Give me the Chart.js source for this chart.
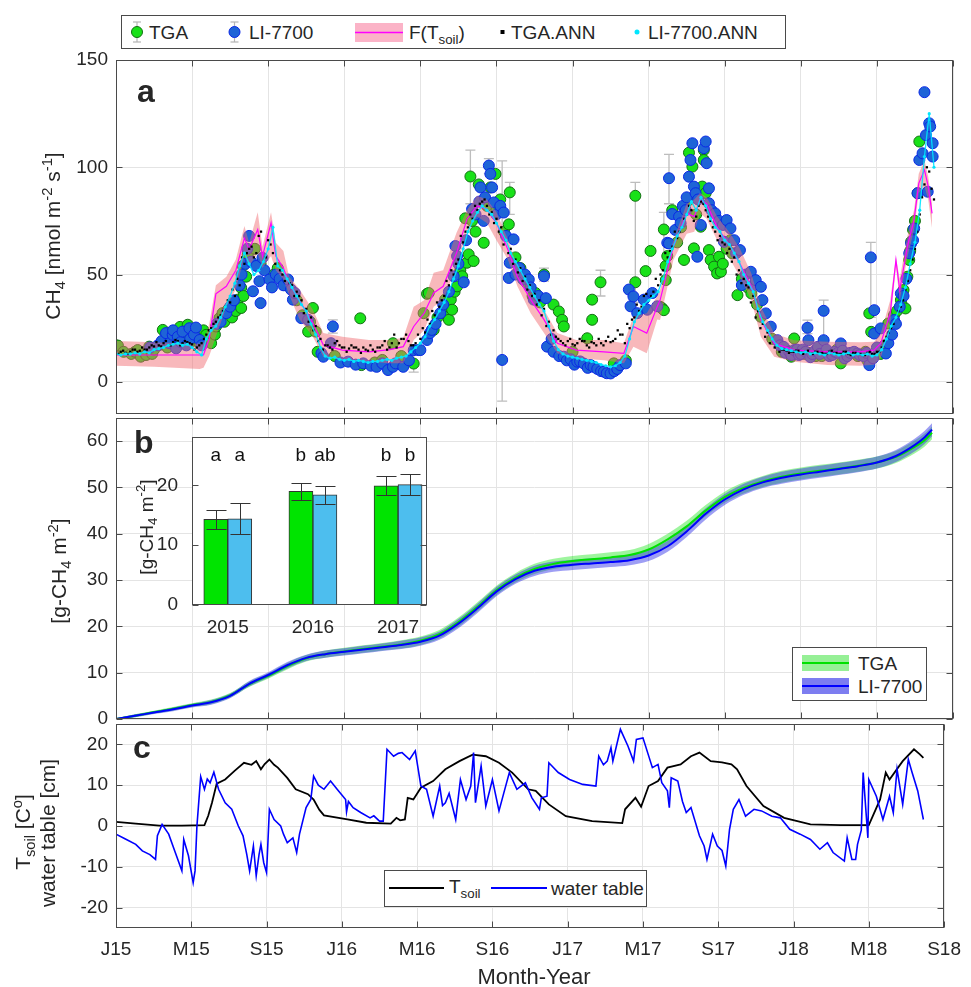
<!DOCTYPE html>
<html lang="en">
<head>
<meta charset="UTF-8">
<title>CH4 flux, cumulative CH4, soil temperature and water table</title>
<script src="https://cdn.jsdelivr.net/npm/chart.js@4"></script>
<style>
  body { margin: 0; background: #fff; font-family: "Liberation Sans", Arial, Helvetica, sans-serif; color: #262626; }
  #fig { position: relative; width: 971px; height: 987px; overflow: hidden; background: #fff; }
  #fig canvas { position: absolute; left: 0; top: 0; }
  .ytitle { position: absolute; transform: translate(-50%, -50%) rotate(-90deg); white-space: nowrap; font-size: 21px; line-height: 1; }
  .ytitle sub, .ytitle sup, .legend sub { font-size: 70%; line-height: 0; }
  .panel { position: absolute; font-weight: bold; font-size: 32px; line-height: 1; }
  .legend { position: absolute; border: 1px solid #4a4a4a; background: #fff; font-size: 19px; }
  .legend span { position: absolute; white-space: nowrap; line-height: 1; }
  .legend svg { position: absolute; left: 0; top: 0; }
</style>
</head>
<body>
<div id="fig">
  <canvas id="cA" width="971" height="987"></canvas>
  <canvas id="cB" width="971" height="987"></canvas>
  <canvas id="cC" width="971" height="987"></canvas>
  <canvas id="cD" width="340" height="230" style="left:100px;top:420px"></canvas>

  <div class="panel" style="left:137px;top:75px">a</div>
  <div class="panel" style="left:134px;top:426px">b</div>
  <div class="panel" style="left:133px;top:731px">c</div>

  <div class="ytitle" style="left:52px;top:236px">CH<sub>4</sub> [nmol m<sup>-2</sup> s<sup>-1</sup>]</div>
  <div class="ytitle" style="left:58px;top:571px">[g-CH<sub>4</sub> m<sup>-2</sup>]</div>
  <div class="ytitle" style="left:22px;top:832px">T<sub>soil</sub> [C<sup>o</sup>]</div>
  <div class="ytitle" style="left:47px;top:833px">water table [cm]</div>
  <div class="ytitle" style="left:146px;top:527px;font-size:19px">[g-CH<sub>4</sub> m<sup>-2</sup>]</div>
  <div style="position:absolute;left:534px;top:977px;transform:translate(-50%,-50%);font-size:22px;white-space:nowrap">Month-Year</div>

  <div class="legend" style="left:121px;top:15px;width:663px;height:32px">
    <svg width="663" height="32">
      <g stroke="#b5b5b5" stroke-width="1.2">
        <line x1="15" y1="6" x2="15" y2="26"/><line x1="11" y1="6" x2="19" y2="6"/><line x1="11" y1="26" x2="19" y2="26"/>
        <line x1="112.5" y1="6" x2="112.5" y2="26"/><line x1="108.5" y1="6" x2="116.5" y2="6"/><line x1="108.5" y1="26" x2="116.5" y2="26"/>
      </g>
      <circle cx="15" cy="16" r="5.5" fill="rgb(25,225,25)" stroke="rgb(20,110,20)"/>
      <circle cx="112.5" cy="16" r="5.5" fill="rgb(30,100,215)" stroke="rgb(10,40,230)"/>
      <rect x="233" y="7" width="48" height="19" fill="#fbb3c7"/>
      <line x1="233" y1="16.5" x2="281" y2="16.5" stroke="#ff00ff" stroke-width="1.5"/>
      <rect x="378.5" y="14" width="4" height="4" fill="#000"/>
      <circle cx="515" cy="16" r="2.5" fill="rgb(0,230,255)"/>
    </svg>
    <span style="left:27px;top:7px">TGA</span>
    <span style="left:127px;top:7px">LI-7700</span>
    <span style="left:287px;top:7px">F(T<sub>soil</sub>)</span>
    <span style="left:389px;top:7px">TGA.ANN</span>
    <span style="left:526px;top:7px">LI-7700.ANN</span>
  </div>

  <div class="legend" style="left:792px;top:647px;width:133px;height:52px">
    <svg width="133" height="52">
      <rect x="9" y="7" width="47" height="16" fill="rgb(150,240,150)"/>
      <line x1="9" y1="15" x2="56" y2="15" stroke="rgb(0,225,0)" stroke-width="2"/>
      <rect x="9" y="30" width="47" height="16" fill="rgb(125,125,240)"/>
      <line x1="9" y1="38" x2="56" y2="38" stroke="#0000ff" stroke-width="2"/>
    </svg>
    <span style="left:65px;top:6px">TGA</span>
    <span style="left:65px;top:29px">LI-7700</span>
  </div>

  <div class="legend" style="left:384px;top:870px;width:261px;height:35px">
    <svg width="261" height="35">
      <line x1="4" y1="17" x2="59" y2="17" stroke="#000" stroke-width="2"/>
      <line x1="106" y1="17" x2="162" y2="17" stroke="#0000ff" stroke-width="2"/>
    </svg>
    <span style="left:64px;top:6px">T<sub>soil</sub></span>
    <span style="left:166px;top:8px">water table</span>
  </div>
</div>

<script>
// ---------- shared x axis (months since Jan 2015) ----------
const xTickMonths = [0, 4, 8, 12, 16, 20, 24, 28, 32, 36, 40, 44];
const xTickLabels = ['J15', 'M15', 'S15', 'J16', 'M16', 'S16', 'J17', 'M17', 'S17', 'J18', 'M18', 'S18'];
const fluxTicks = [0, 50, 100, 150];
const cumTicks = [0, 10, 20, 30, 40, 50, 60];
const envTicks = [-20, -10, 0, 10, 20];

// ---------- panel a: CH4 flux [nmol m-2 s-1] ----------
// [month, flux] or [month, flux, errLow, errHigh]
const tgaFlux = [
  [0.0,17],[0.1,16.9],[0.4,14],[0.8,13],[1.0,14],[1.14,14.8],[1.3,11.7],[1.58,12.5],[1.75,16.4],[1.9,13],[2.0,15],[2.28,17.2],
  [2.46,24.2],[2.6,20],[2.7,16],[2.9,21],[3.1,18],[3.3,20],[3.37,25.6],[3.5,22.7],[3.77,26.6],[4.0,19],[4.2,21],[4.39,18],[4.6,24],[4.74,21.9],
  [5.0,18],[5.2,22],[5.26,25.8],[5.44,29.7],[5.6,32],[5.7,28],[5.88,33.6],[6.05,35],[6.1,30],[6.23,36.7],[6.3,33],[6.4,38.3],[6.58,34.4],[6.58,43.8],
  [6.67,54],[6.7,40],[6.84,49],[6.93,59.4],[7.3,62],[7.6,55],[8.3,50],[8.5,53],[8.68,47.7],[8.9,45],[9.0,46],[9.5,38],[9.8,31],[10.1,23.4],[10.2,28],[10.35,34.4],
  [10.5,23.4],[10.6,14],[11.5,12],[12.84,29.6],[12.9,7.8],[13.6,9],[14.0,10.2],[14.56,18],[15.0,12],[15.65,8.5,4.5,12.5],
  [16.17,32],[16.35,41],[16.44,41.4],[16.7,24.2],[16.9,30],[17.2,32],[17.3,38.3],[17.4,35.2],[17.5,28.9],[17.6,38.3],[17.67,33.6],[17.8,42],
  [17.93,44.5],[18.1,52],[18.2,49.2],[18.36,76.2],[18.45,55.5],[18.54,59.4],[18.63,95.7,83,108],[18.72,75],[18.8,56.3],[18.9,70],[19.07,92],[19.33,64.8],
  [19.5,82],[19.68,90.6],[19.95,96.9],[20.0,80],[20.2,85],[20.4,70],[20.65,73.4],[20.7,88.3,78,93],[21.0,58],[21.26,53],[21.6,46],[21.9,40],[22.05,41.4],[22.3,37],[22.5,50,47,53],[23.0,36],
  [23.28,32.8],[23.45,28.9],[23.54,25.8],[24.0,14],[24.77,20.3],[25.03,28.9],[25.03,38.3],[25.47,46.4,40,52],[26.17,8.6],[26.8,10],
  [27.3,86.7,37,93],[27.3,46.4],[27.84,51.6],[28.1,61],[28.6,35],[28.7,34.4],[28.8,71,54,79],[28.8,33.4],[28.9,54],[28.9,47.4],
  [28.98,58.6],[29.24,80],[29.5,65],[29.7,72],[29.86,56.8],[30.12,106.8],[30.12,84.8],[30.3,100.3],[30.38,62.2],[30.5,78],[30.74,72.3],[30.82,91],[30.9,108],
  [30.9,103.4],[31.0,88],[31.17,61.4],[31.26,56.8],[31.44,53.7],[31.6,50.5],[31.7,58.3],[31.8,51.3],[31.9,55],[32.1,62],[32.3,66],[32.4,59.9],[32.67,40.4],[32.9,48],
  [33.2,44],[33.4,41.2],[33.7,36],[33.9,30.3],[34.5,20],[35.0,14],[35.3,14.5],[35.5,11.7],[35.65,20.2],[36.2,13],[36.4,13.5],[36.8,12],[37.1,12],[37.4,14],[37.9,15],[38.1,8.6],
  [38.3,12.5],[38.5,13],[38.9,13],[39.0,12],[39.4,14],[39.5,10],[39.6,31.9],[39.7,23.3],[40.2,13],[40.4,17],[40.6,27.2],[40.9,31.1],[41.05,33],[41.26,38.1],[41.3,36],[41.4,42.8],
  [41.5,34.2],[41.6,49],[41.7,56.8],[41.75,61],[41.8,65.3],[41.9,70.8],[42.0,75],[42.14,87.9],[42.23,112]
];
const liFlux = [
  [1.8,16],[2.2,17],[2.4,19],[2.63,22.7],[2.8,18],[2.98,21.9],[3.0,24],[3.16,15.6],[3.25,21],[3.4,18.5],[3.5,23.4],[3.7,17],[3.86,25],[3.9,20],
  [4.1,22],[4.2,25.3],[4.4,19.5],[4.5,17],[5.3,27],[5.5,28],[5.8,32],[6.0,35],[6.2,38],[6.5,45],[6.6,50],[6.8,55],[6.9,62],[7.0,68],[7.1,56],[7.2,42.2],[7.37,54],[7.54,46.9],
  [7.6,36.7],[7.7,57.8],[7.8,52],[8.07,47.7],[8.2,44],[8.4,50],[8.6,48],[8.8,45],[9.04,47.7],[9.2,43],[9.3,38.3],[9.4,41.4],[9.74,29.7],[10.1,28.9],
  [10.8,13.3],[10.9,11.7],[11.3,18],[11.4,25.8,22.7,28.9],[11.8,9],[12.2,9.4],[12.6,8],[13.0,8.6],[13.4,7.5],[13.7,7],
  [14.0,8.6],[14.3,5.5],[14.56,7],[14.7,8.6],[15.1,7],[15.4,10],[15.65,14.8],[15.9,14.8],[16.0,14.8],[16.35,19.5],
  [16.5,22.7],[16.6,24.2],[16.8,27],[17.05,32],[17.2,36],[17.5,42],[17.75,49.2],[17.84,63.3],[17.93,58.6],[18.0,55],[18.28,46.4],[18.4,66],[18.72,80.5],[18.9,78],[19.1,84],[19.16,90.6],[19.33,75],[19.4,86],
  [19.6,100.8,97,104],[19.68,96.9],[19.77,90.6],[19.86,83.6],[20.0,78],[20.2,82],[20.3,10.2,-9,103],[20.38,78.9],[20.5,68],[20.65,48.4],[20.7,55.5],[20.9,66.4],
  [21.0,50],[21.2,53],[21.4,47.7],[21.5,50],[21.7,47.7],[21.8,44],[21.96,38.3],[22.2,40],[22.5,49.2],[22.6,39],[22.66,16.4],[22.9,20],[23.0,14],[23.3,12],[23.54,11.7],
  [23.7,10],[23.9,10.5],[24.1,8],[24.25,9.4],[24.4,9.5],[24.6,8.5],[24.8,6.5],[24.95,7.8],[25.1,7],[25.3,6],[25.5,5],[25.65,4.7],[25.8,4],[26.0,3.9],[26.2,5],[26.35,6],[26.5,7.8],[26.8,8.6],
  [26.96,43],[27.05,35.2],[27.2,39.8],[27.4,32],[27.75,38.3],[27.93,33.6],[28.2,41.4],[28.45,35.2],[28.98,64.8],[29.07,94.9,83,106],
  [29.07,64.5],[29.24,78.2],[29.4,70.8],[29.6,77],[29.68,73.9],[29.8,82],[29.95,80],[30.0,86],[30.12,95.6],[30.2,103.4],[30.3,111.2],[30.38,91],
  [30.47,87.9],[30.56,58.3],[30.6,85],[30.74,73.1],[30.9,108.9],[31.0,112],[31.05,101.9],[31.17,90.2],[31.17,83.2],[31.3,80],[31.5,78.5],[31.7,75],[31.9,73.1],
  [31.96,65.3],[32.1,75.4],[32.3,71.5],[32.5,66],[32.6,60],[32.8,61.4],[32.9,45.1],[33.1,50],[33.37,51.3],[33.5,45],[33.63,47.4],[33.9,44.3],[33.98,38.1],[34.16,31.9],
  [34.42,25.7],[34.77,19.4],[34.9,17],[35.1,16.3],[35.2,13.5],[35.4,14],[35.5,12.5],[35.65,14.8],[35.8,15],[35.9,12.5],[36.0,13],[36.1,15],[36.25,14],[36.35,25.2,22.5,28.8],[36.4,19.4],[36.5,11.5],[36.6,13],
  [36.75,14.5],[36.9,16.3],[37.0,13],[37.2,33.1,19.4,38.1],[37.2,19.4],[37.35,15],[37.5,12],[37.65,12.5],[37.8,14],[37.95,13.5],[38.1,17.9],[38.2,14.5],[38.3,11],[38.45,12],[38.6,13.5],[38.8,14],[38.98,13.2],[39.1,12.5],[39.3,12],
  [39.45,13.5],[39.6,7.8],[39.68,58,30,65],[39.8,11],[39.86,33.4],[39.86,22.5],[40.0,16],[40.2,24.9],[40.47,13.2],[40.6,18],[40.8,22],[40.9,28.8],[41.0,27],[41.2,35],[41.26,41.2],
  [41.4,40],[41.55,48],[41.7,59.9],[41.8,64.5],[41.9,66],[41.96,71.5],[42.14,87.9],[42.23,103.4],[42.4,106.5],[42.5,135],[42.58,115],[42.67,88.6],[42.75,120.5],
  [42.8,119],[42.93,111.2],[42.93,105]
];
// ANN gap-filled fluxes, one value every quarter month starting Jan 2015
const annStep = 0.25;
const tgaAnn = [
  14,14,13.5,14,15,14.5,15,16,16.5,17,18,17,18.5,19,18,18.5,17.5,
  16,18,22,25,
  28,31,35,37,40,45,55,62,
  58,68,56,66,60,54,50,48,
  45,42,38,34,30,26,20,17,
  16,18,17,16,15.5,16,15,16,14.5,15,16,17,15,18,16,20,
  22,17,18,20,23,27,31,35,
  40,45,50,57,65,72,76,80,
  84,82,79,76,72,66,62,57,
  53,49,45,41,38,34,28,24,
  20,18,19,17.5,18,19,17,18.5,
  17,18,19,18.5,20,22,18,25,
  30,33,40,38,42,45,52,58,
  63,67,72,78,80,77,84,80,
  75,70,68,64,62,58,52,48,
  44,40,33,27,23,20,17,15,
  14.5,14,14.5,13.5,14,13,14,13.5,13,14,13.5,13,14,13,13.5,13,12.5,13.5,13,14,
  16,21,25,30,35,43,52,62,78,92,98,85
];
// the same ANN series between those days (starting mid first week)
const annMidStart = 0.125;
const tgaAnnMid = [
  13,14.5,13,15,14,16,15,17,18.5,16.5,19,17,19.5,17,19,18,
  15,17,20,24,
  27,30,33,38,43,48,58,60,
  63,60,70,58,64,55,52,47,
  46,40,40,32,28,24,19,15,
  17,15,19,16,14,17,16,13.5,15,17,14,16,19,16,22,18,
  20,19,17,22,25,29,33,37,
  38,47,52,55,68,70,78,82,
  83,85,78,74,70,64,60,55,
  51,47,43,40,36,31,26,22,
  21,19,17,20,17,20,19,16,
  18,20,17,21,19,24,22,27,
  29,36,35,41,40,48,50,60,
  61,70,70,76,82,75,82,83,
  77,72,66,65,60,56,50,46,
  45,37,30,25,21,18,16,14,
  15,13.5,14,14.5,13,14.5,13,14,13.5,13,14.5,13.5,13,14,12.5,13.5,13,12.5,14,13,
  14,19,23,27,33,38,47,57,70,86,100,90
];
const liAnn = [
  13,12.5,13,13,13.5,13,14,13.5,15,15.5,16,17,17.5,18,17,17.5,16,
  14,12.5,20,24,
  26,30,35,40,46,54,60,55,
  50,52,56,62,72,54,52,48,
  44,40,36,33,27,22,16,12,
  11,11.5,10.5,10,10.5,9.5,10,9.5,9,9.5,9.5,10,10.5,10,11,11.5,
  12,14,16,18,21,26,29,33,
  37,42,48,54,62,70,75,79,
  82,80,78,74,70,66,60,56,
  52,48,44,40,36,33,26,19,
  15,13,12,11.5,11,10.5,10,9.5,
  9,8,7.5,7,7.5,9,12,20,
  28,32,36,38,40,42,48,56,
  62,68,72,78,84,80,86,82,
  76,72,70,66,64,60,56,50,
  46,42,34,28,24,20,17,15.5,
  15,14.5,14,13.5,14,13,13.5,13,12.5,13.5,13,12.5,13,13.5,12.5,13,12.5,13,12,12.5,
  15,20,26,30,36,44,55,65,80,105,125,100
];
// F(Tsoil): [month, lower, fit, upper]
const fTsoil = [
  [0,7.5,12.5,19],[2,7,12.5,18.5],[4.4,6,12.5,17.7],[4.6,6.5,12.5,18],[4.9,12,20,27],[5.25,21,41,45],[5.8,35,44.5,49],
  [6.3,43,52,57],[6.75,58.6,67,72.6],[7.0,54,61.7,64.8],[7.45,60,71,79],[7.7,53,58.6,63],[8.15,58.6,74,79],[8.4,52,58.6,64.8],
  [8.8,47.7,53,61],[9.1,40.6,46,49],[9.65,29,38,43],[10.35,21,27.3,33.6],[10.9,11.7,17.2,22.7],[11.9,10.2,14.8,21],
  [13.3,9.4,14,19.5],[14.4,8.6,15,19.5],[15.1,8.6,16.4,20.5],[15.65,19.5,25.8,35],[16.2,24,32,38],[16.7,35,41.4,50.8],
  [17.2,38,44.5,52],[17.9,54,60,69.5],[18.45,69.5,75.8,80],[18.98,77,82,86.7],[19.5,74,80.5,85],[20.0,66,74,79],
  [20.6,57,61.7,66.4],[21.1,44.5,49,54],[21.8,32,38.3,43],[22.5,22.7,29,33.6],[23.2,13.3,18,22.7],[24.2,11,14.8,19.5],
  [25.65,10,14,19.5],[26.7,8.6,13.3,18],[27.2,16.4,25.8,30.5],[27.9,13.3,22.7,32],[28.45,29,35,40],[28.6,28.8,38,42.8],
  [29.3,56.8,63,66],[30.0,69,78.5,83],[30.4,70,77,85],[30.7,78.5,84.8,88],[31.05,76,83,86],[31.6,66,72,77],
  [32.3,56.8,63,69],[32.8,49,55,62],[33.4,38,44.3,50.5],[33.9,21,28.8,35],[34.6,11.7,17.9,22.5],[35.65,9.3,14.8,19.4],
  [37.4,7.8,14,18.7],[39.1,7.5,14,18.5],[39.85,8,14.8,18.7],[40.2,11,17.9,22.5],[40.7,27,32,38],[41.0,53.6,56.8,58],
  [41.2,38,42.8,48],[41.6,58,63,67.7],[41.95,70.8,75.4,80],[42.2,88,92.5,97],[42.5,91,98.8,103.4],[42.7,84.8,91,95.6],
  [42.9,71.5,78.5,83]
];

// ---------- panel b: cumulative CH4 [g-CH4 m-2] ----------
const cumMonth = [0,1,2,3,4,5,6,7,8,9,10,11,12,13,14,15,16,17,18,19,20,21,22,23,24,25,26,27,28,29,30,31,32,33,34,35,36,37,38,39,40,41,42,42.5,42.9];
const cumTga = [0,0.7,1.5,2.2,3.0,3.7,5.1,7.5,9.3,11.4,13.1,14.0,14.6,15.1,15.6,16.1,16.9,18.3,20.9,24.2,27.8,30.5,32.4,33.5,34.1,34.5,34.9,35.4,36.6,38.8,41.6,45.0,47.9,49.9,51.3,52.3,53.0,53.6,54.1,54.7,55.4,56.6,58.8,60.2,61.8];
const cumLi = [0,0.7,1.4,2.1,2.9,3.6,5.0,7.6,9.5,11.6,13.2,14.0,14.5,15.0,15.5,16.0,16.7,18.0,20.6,23.9,27.5,30.2,32.0,32.9,33.3,33.6,33.9,34.3,35.3,37.3,40.5,44.3,47.4,49.6,51.1,52.1,52.8,53.4,54.0,54.6,55.4,56.8,59.2,60.8,62.5];
const cumBandHalf = [0.1,0.3,0.3,0.4,0.4,0.5,0.5,0.6,0.6,0.7,0.7,0.8,0.8,0.8,0.8,0.9,0.9,0.9,1.0,1.0,1.0,1.0,1.1,1.1,1.1,1.1,1.1,1.1,1.2,1.2,1.2,1.2,1.2,1.2,1.2,1.3,1.3,1.3,1.3,1.3,1.3,1.3,1.4,1.4,1.4];

// inset: annual sums
const years = ['2015', '2016', '2017'];
const annualTga = [14.3, 19.0, 19.9];
const annualTgaErr = [[12.7, 15.9], [17.6, 20.4], [18.3, 21.5]];
const annualLi = [14.4, 18.4, 20.1];
const annualLiErr = [[11.9, 17.0], [16.8, 19.9], [18.3, 21.9]];
const lettersTga = ['a', 'b', 'b'];
const lettersLi = ['a', 'ab', 'b'];

// ---------- panel c: soil temperature and water table ----------
const tsoil = [
  [0,1.0],[1.05,0.6],[2.3,0.1],[3.5,0.1],[4.7,0.2],[4.9,2.5],[5.1,5.7],[5.35,10.4],[5.8,11.4],[6.3,13.5],[6.8,15.5],
  [7.2,15.0],[7.45,15.9],[7.7,13.9],[7.9,15.2],[8.15,16.3],[8.4,15.0],[8.6,14.3],[9.1,11.8],[9.55,9.0],[10.2,7.8],
  [10.5,6.5],[10.8,4.0],[11.05,2.6],[12.3,1.6],[13.3,0.8],[14.6,0.6],[14.9,2.0],[15.1,1.4],[15.35,1.6],[15.5,6.9],
  [15.8,6.5],[16.2,9.4],[16.85,11.0],[17.5,13.9],[18.25,15.9],[18.95,17.5],[19.65,17.1],[20.35,15.5],[21.05,13.1],
  [21.9,9.0],[22.3,8.6],[23.0,5.3],[23.9,2.4],[25.3,1.2],[26.9,0.7],[27.05,4.1],[27.6,6.9],[27.9,4.7],[28.3,9.8],
  [28.8,11.0],[29.3,14.3],[30.0,15.1],[30.55,17.1],[31.0,18.0],[31.6,15.9],[32.2,15.6],[32.7,15.1],[33.0,13.9],
  [33.5,9.8],[34.4,4.9],[35.5,2.0],[36.9,0.4],[38.5,0.2],[40.0,0.2],[40.6,6.5],[40.9,13.1],[41.1,11.4],[41.8,15.9],
  [42.4,18.8],[42.7,17.6],[42.9,16.7]
];
const waterTable = [
  [0,-2.0],[0.5,-3.2],[1.05,-4.5],[1.4,-6.1],[1.8,-7.0],[2.1,-8.2],[2.2,-2.4],[2.45,0.4],[2.8,-2.0],[3.15,-6.5],
  [3.5,-11.0],[3.6,-3.3],[3.85,-7.3],[4.1,-13.9],[4.2,-11.0],[4.3,0],[4.5,12.1],[4.7,9.0],[4.85,11.5],[5.0,10.6],
  [5.2,13.2],[5.45,9.0],[5.8,5.7],[6.15,4.1],[6.5,0],[6.75,-2.4],[6.95,-7],[7.1,-11.0],[7.3,-4.9],[7.45,-12.2],
  [7.6,-7],[7.7,-4.5],[7.85,-9],[8.0,-11.4],[8.15,4.1],[8.4,1.6],[8.75,0],[8.9,-2],[9.1,-4.1],[9.4,-2.9],
  [9.6,-6.5],[9.75,-2.0],[10.1,4.5],[10.35,6.5],[10.5,12.2],[10.75,10],[11.05,9.0],[11.4,11.0],[11.75,9.0],[12.2,6.5],
  [12.25,3.5],[12.35,6],[12.6,4.5],[13.0,3.3],[13.5,2.0],[13.7,2.5],[14.0,1.2],[14.2,1.2],[14.4,18.8],[14.75,17.1],
  [15.0,17.8],[15.2,18.0],[15.6,16.3],[15.9,18.4],[16.2,9.8],[16.5,9.0],[16.85,2.4],[17.2,9.8],[17.35,5],[17.5,5.7],
  [17.7,8],[18.05,1.6],[18.3,11.4],[18.6,6.5],[18.85,9.8],[19.0,18.0],[19.1,5.7],[19.4,14.7],[19.65,4.9],[20.0,11.4],
  [20.35,3.7],[20.6,8],[20.9,13.1],[21.3,9.0],[21.75,10.6],[22.1,6.9],[22.5,4.1],[22.6,6.9],[22.9,7.3],[23.0,15.5],
  [23.5,13.1],[24.1,11.4],[24.8,10.2],[25.5,9.8],[25.65,17.1],[25.9,15],[26.1,15.9],[26.3,19.2],[26.4,15.9],[26.8,23.7],
  [27.2,19.6],[27.5,15.9],[27.65,21.2],[28.0,21.6],[28.5,14.3],[28.8,15.1],[29.0,10.6],[29.3,8.6],[29.4,4.5],[29.5,11.8],
  [29.85,11.0],[30.1,6],[30.3,3.3],[30.55,4.5],[31.0,-2.4],[31.25,-4.9],[31.4,-8.2],[31.7,-2.0],[31.95,-4.9],[32.2,-6],
  [32.4,-9.8],[32.6,-0.8],[32.8,4.1],[33.1,6.5],[33.45,2.4],[33.9,4.1],[34.3,3.7],[34.85,2.4],[35.3,2.0],[35.8,-0.8],
  [36.35,-2.0],[36.9,-3.3],[37.4,-5.7],[37.8,-4.1],[38.1,-6.5],[38.7,-8.6],[38.85,-2.9],[39.1,-8.2],[39.3,-8.2],[39.4,-4.5],
  [39.6,-1],[39.7,13.1],[39.95,-2.9],[40.0,11.4],[40.4,7.3],[40.75,1.6],[41.1,7.3],[41.3,3.3],[41.5,13.9],[41.8,5.3],
  [42.1,16.3],[42.3,13.1],[42.6,8.6],[42.9,1.6]
];

// ---------- chart setup ----------
Chart.defaults.font.family = '"Liberation Sans", Arial, Helvetica, sans-serif';
Chart.defaults.color = '#262626';
Chart.defaults.animation = false;
Chart.defaults.events = [];
Chart.defaults.plugins.legend.display = false;
Chart.defaults.plugins.tooltip.enabled = false;

const GRID = '#e4e4e4';
const FRAME = '#4a4a4a';

const setTicks = values => s => { s.ticks = values.map(v => ({ value: v })); };
const pts = list => list.map(p => ({ x: p[0], y: p[1] }));
const series = (vals, start, step) => vals.map((v, i) => ({ x: start + i * step, y: v }));

// axes box with inward tick marks, MATLAB style
const framePlugin = {
  id: 'frame',
  afterDraw(chart, args, opts) {
    const { ctx, chartArea: a, scales } = chart;
    const L = Math.round(a.left) + 0.5, R = Math.round(a.right) - 0.5;
    const T = Math.round(a.top) + 0.5, B = Math.round(a.bottom) - 0.5;
    ctx.save();
    ctx.strokeStyle = FRAME;
    ctx.lineWidth = 1;
    ctx.strokeRect(L, T, R - L, B - T);
    ctx.beginPath();
    if (opts.xTicks) {
      scales.x.ticks.forEach(t => {
        const px = Math.round(scales.x.getPixelForValue(t.value)) + 0.5;
        ctx.moveTo(px, B); ctx.lineTo(px, B - 6);
        ctx.moveTo(px, T); ctx.lineTo(px, T + 6);
      });
    }
    scales.y.ticks.forEach(t => {
      const py = Math.round(scales.y.getPixelForValue(t.value)) + 0.5;
      ctx.moveTo(L, py); ctx.lineTo(L + 6, py);
      ctx.moveTo(R, py); ctx.lineTo(R - 6, py);
    });
    ctx.stroke();
    ctx.restore();
  }
};

// vertical error bars for the chamber fluxes
const fluxErrPlugin = {
  id: 'fluxErr',
  beforeDatasetsDraw(chart) {
    const { ctx, chartArea: a, scales: { x, y } } = chart;
    ctx.save();
    ctx.beginPath();
    ctx.rect(a.left, a.top, a.width, a.height);
    ctx.clip();
    ctx.strokeStyle = '#bdbdbd';
    ctx.lineWidth = 1.3;
    [tgaFlux, liFlux].forEach(list => list.forEach(p => {
      if (p.length < 4) return;
      const px = x.getPixelForValue(p[0]);
      const lo = y.getPixelForValue(p[2]), hi = y.getPixelForValue(p[3]);
      ctx.beginPath();
      ctx.moveTo(px, lo); ctx.lineTo(px, hi);
      ctx.moveTo(px - 5, lo); ctx.lineTo(px + 5, lo);
      ctx.moveTo(px - 5, hi); ctx.lineTo(px + 5, hi);
      ctx.stroke();
    }));
    ctx.restore();
  }
};

function timeOptions(top, bottom, yMin, yMax, yTicks, showX) {
  const axisH = showX ? 987 - bottom : 0;
  return {
    responsive: false,
    layout: { padding: { left: 0, right: 18, top: top, bottom: 987 - bottom - axisH } },
    scales: {
      x: {
        type: 'linear', min: 0, max: 44,
        afterBuildTicks: setTicks(xTickMonths),
        afterFit: s => { s.height = axisH; },
        grid: { color: GRID, drawTicks: false },
        border: { display: false },
        ticks: {
          display: showX, autoSkip: false, maxRotation: 0, padding: 10,
          font: { size: 19 },
          callback: v => xTickLabels[xTickMonths.indexOf(v)]
        }
      },
      y: {
        min: yMin, max: yMax,
        afterBuildTicks: setTicks(yTicks),
        afterFit: s => { s.width = 116; },
        grid: { color: GRID, drawTicks: false },
        border: { display: false },
        ticks: { padding: 8, font: { size: 19 } }
      }
    },
    plugins: { frame: { xTicks: true } }
  };
}

// panel a
new Chart(document.getElementById('cA'), {
  type: 'line',
  data: {
    datasets: [
      { label: 'TGA', data: pts(tgaFlux), showLine: false, order: 6,
        pointRadius: 5.5, pointBackgroundColor: 'rgb(25,225,25)', pointBorderColor: 'rgb(20,110,20)', pointBorderWidth: 1 },
      { label: 'LI-7700', data: pts(liFlux), showLine: false, order: 5,
        pointRadius: 5.5, pointBackgroundColor: 'rgb(30,100,215)', pointBorderColor: 'rgb(10,40,230)', pointBorderWidth: 1 },
      { label: 'F low', data: fTsoil.map(r => ({ x: r[0], y: r[1] })), borderWidth: 0, pointRadius: 0, fill: false, order: 4 },
      { label: 'F(Tsoil) band', data: fTsoil.map(r => ({ x: r[0], y: r[3] })), borderWidth: 0, pointRadius: 0,
        fill: '-1', backgroundColor: 'rgba(240,105,110,0.47)', order: 4 },
      { label: 'F(Tsoil)', data: fTsoil.map(r => ({ x: r[0], y: r[2] })), borderColor: '#ff00ff', borderWidth: 1.2,
        pointRadius: 0, fill: false, order: 3 },
      { label: 'TGA.ANN', data: series(tgaAnn, 0, annStep).concat(series(tgaAnnMid, annMidStart, annStep)),
        showLine: false, order: 2, pointStyle: 'rect', pointRadius: 1.6, pointBackgroundColor: '#000', pointBorderWidth: 0 },
      { label: 'LI-7700.ANN', data: series(liAnn, 0, annStep), showLine: true, order: 1,
        borderColor: 'rgba(0,230,255,0.9)', borderWidth: 1.3, fill: false,
        pointRadius: 1.6, pointBackgroundColor: 'rgb(0,230,255)', pointBorderWidth: 0 }
    ]
  },
  options: timeOptions(60, 414, -15, 150, fluxTicks, false),
  plugins: [fluxErrPlugin, framePlugin]
});

// panel b
const cumPts = (vals, off) => vals.map((v, i) => ({ x: cumMonth[i], y: v + off * cumBandHalf[i] }));
new Chart(document.getElementById('cB'), {
  type: 'line',
  data: {
    datasets: [
      { data: cumPts(cumTga, -1), borderWidth: 0, pointRadius: 0, fill: false, order: 6, cubicInterpolationMode: 'monotone' },
      { data: cumPts(cumTga, 1), borderWidth: 0, pointRadius: 0, fill: '-1', backgroundColor: 'rgba(0,230,0,0.38)', order: 6, cubicInterpolationMode: 'monotone' },
      { data: cumPts(cumLi, -1), borderWidth: 0, pointRadius: 0, fill: false, order: 5, cubicInterpolationMode: 'monotone' },
      { data: cumPts(cumLi, 1), borderWidth: 0, pointRadius: 0, fill: '-1', backgroundColor: 'rgba(40,40,230,0.45)', order: 5, cubicInterpolationMode: 'monotone' },
      { label: 'TGA', data: cumPts(cumTga, 0), borderColor: 'rgb(0,225,0)', borderWidth: 2, pointRadius: 0, fill: false, order: 2, cubicInterpolationMode: 'monotone' },
      { label: 'LI-7700', data: cumPts(cumLi, 0), borderColor: '#0000ff', borderWidth: 2, pointRadius: 0, fill: false, order: 1, cubicInterpolationMode: 'monotone' }
    ]
  },
  options: timeOptions(418, 719, 0, 65, cumTicks, false),
  plugins: [framePlugin]
});

// panel c
new Chart(document.getElementById('cC'), {
  type: 'line',
  data: {
    datasets: [
      { label: 'Tsoil', data: pts(tsoil), borderColor: '#000', borderWidth: 1.8, pointRadius: 0, fill: false, order: 2 },
      { label: 'water table', data: pts(waterTable), borderColor: '#0000ff', borderWidth: 1.6, pointRadius: 0, fill: false, order: 1 }
    ]
  },
  options: timeOptions(724, 928, -25, 25, envTicks, true),
  plugins: [framePlugin]
});

// inset bar chart with error bars and significance letters
const insetPlugin = {
  id: 'insetDecor',
  beforeDraw(chart) {
    const { ctx, chartArea: a } = chart;
    ctx.save();
    ctx.fillStyle = '#fff';
    ctx.fillRect(a.left, a.top, a.width, a.height);
    ctx.restore();
  },
  afterDatasetsDraw(chart) {
    const { ctx, scales: { y } } = chart;
    const errs = [annualTgaErr, annualLiErr];
    const letters = [lettersTga, lettersLi];
    ctx.save();
    ctx.strokeStyle = '#333';
    ctx.lineWidth = 1;
    ctx.fillStyle = '#111';
    ctx.font = '19px "Liberation Sans", Arial, sans-serif';
    ctx.textAlign = 'center';
    ctx.textBaseline = 'middle';
    errs.forEach((e, d) => {
      chart.getDatasetMeta(d).data.forEach((bar, j) => {
        const px = Math.round(bar.x) + 0.5;
        const lo = Math.round(y.getPixelForValue(e[j][0])) + 0.5;
        const hi = Math.round(y.getPixelForValue(e[j][1])) + 0.5;
        ctx.beginPath();
        ctx.moveTo(px, lo); ctx.lineTo(px, hi);
        ctx.moveTo(px - 10, lo); ctx.lineTo(px + 10, lo);
        ctx.moveTo(px - 10, hi); ctx.lineTo(px + 10, hi);
        ctx.stroke();
        ctx.fillText(letters[d][j], bar.x, y.getPixelForValue(24.9));
      });
    });
    ctx.restore();
  }
};

new Chart(document.getElementById('cD'), {
  type: 'bar',
  data: {
    datasets: [
      { label: 'TGA', data: annualTga.map((v, i) => ({ x: i + 1, y: v })), backgroundColor: 'rgb(0,228,0)',
        borderColor: '#333', borderWidth: 1, barThickness: 24 },
      { label: 'LI-7700', data: annualLi.map((v, i) => ({ x: i + 1, y: v })), backgroundColor: 'rgb(77,190,238)',
        borderColor: '#333', borderWidth: 1, barThickness: 24 }
    ]
  },
  options: {
    responsive: false,
    layout: { padding: { left: 0, right: 13, top: 11, bottom: 0 } },
    scales: {
      x: {
        type: 'linear', min: 0.58, max: 3.34, offset: false,
        afterBuildTicks: setTicks([1, 2, 3]),
        afterFit: s => { s.height = 45; },
        grid: { display: false }, border: { display: false },
        ticks: { padding: 3, font: { size: 19 }, callback: v => years[v - 1] }
      },
      y: {
        min: 0, max: 28,
        afterBuildTicks: setTicks([0, 10, 20]),
        afterFit: s => { s.width = 92; },
        grid: { display: false }, border: { display: false },
        ticks: { padding: 6, font: { size: 19 } }
      }
    },
    plugins: { frame: { xTicks: false } }
  },
  plugins: [insetPlugin, framePlugin]
});
</script>
</body>
</html>
